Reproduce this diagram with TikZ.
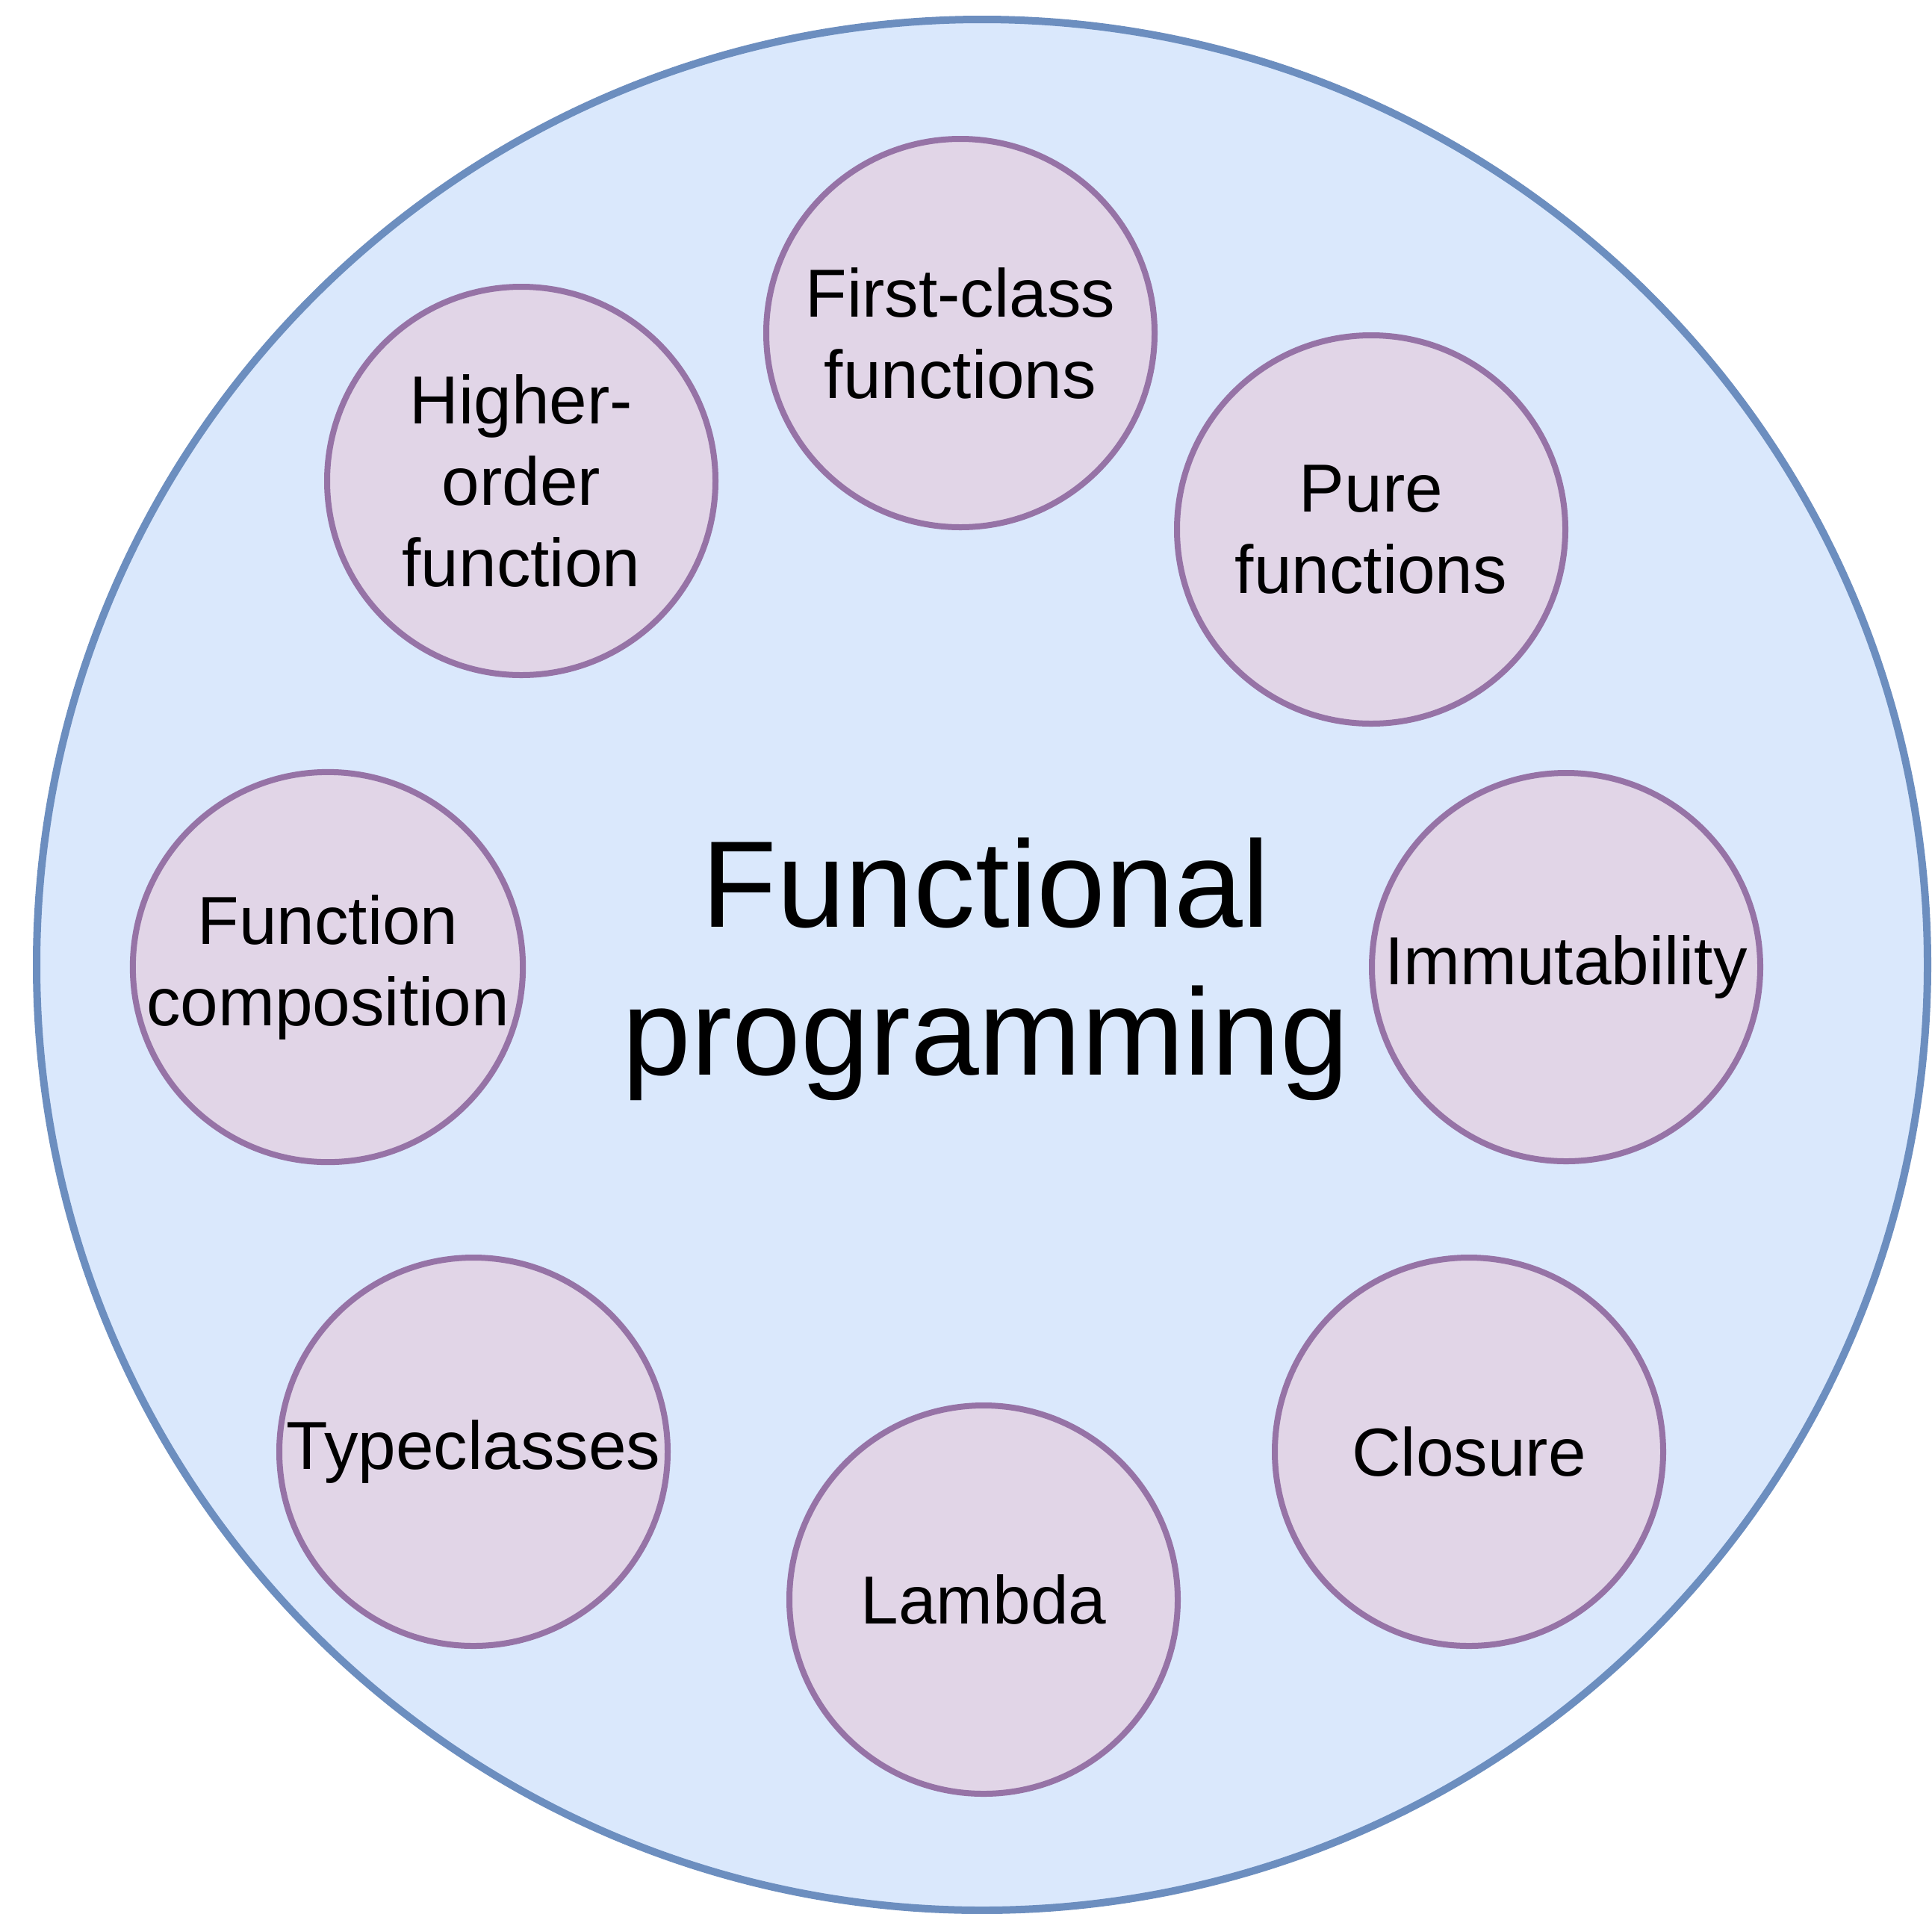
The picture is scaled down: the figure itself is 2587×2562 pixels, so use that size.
\documentclass[tikz,border=0pt]{standalone}
\usepackage{fontspec}
\setmainfont{Liberation Sans}
\definecolor{bluefill}{HTML}{DAE8FC}
\definecolor{bluedraw}{HTML}{6C8EBF}
\definecolor{purplefill}{HTML}{E1D5E7}
\definecolor{purpledraw}{HTML}{9673A6}
\begin{document}
\begin{tikzpicture}[x=1pt,y=-1pt,
  outer/.style={circle, draw=bluedraw, fill=bluefill, line width=10pt, minimum size=2532pt, inner sep=0pt},
  concept/.style={circle, draw=purpledraw, fill=purplefill, line width=8pt, minimum size=520pt, inner sep=0pt, align=center, font=\fontsize{91}{109}\selectfont},
  title/.style={align=center, font=\fontsize{165}{198}\selectfont, inner sep=0pt}]
\useasboundingbox (0,0) rectangle (2587,2562);
\node[outer] (fp) at (1315,1292) {};
\node[title] (ttl) at (1320,1298) {Functional\\programming};
\node[concept] (first) at (1286,446) {First-class\\functions};
\node[concept] (higher) at (698,644) {Higher-\\order\\function};
\node[concept] (pure) at (1836,709) {Pure\\functions};
\node[concept] (comp) at (439,1295) {Function\\composition};
\node[concept] (immut) at (2097,1295) {Immutability};
\node[concept] (type) at (634,1944) {Typeclasses};
\node[concept] (closure) at (1967,1944) {Closure};
\node[concept] (lambda) at (1317,2142) {Lambda};
\end{tikzpicture}
\end{document}
